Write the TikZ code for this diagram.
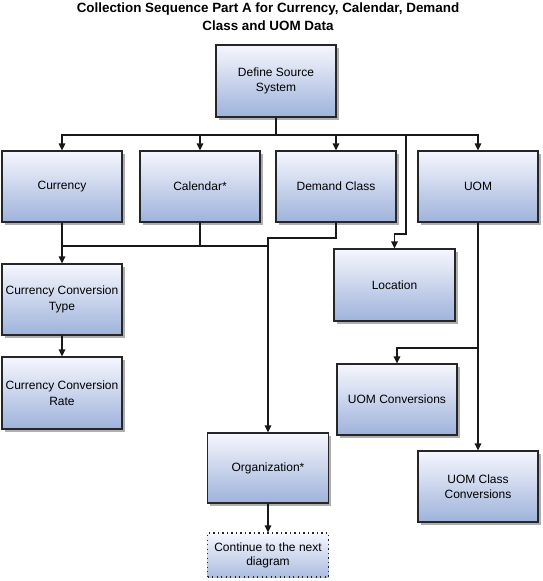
\documentclass[tikz,border=0pt]{standalone}
\usepackage{fontspec}
\setmainfont{Liberation Sans}
\usetikzlibrary{arrows.meta,shadows,calc}
\definecolor{boxtop}{RGB}{246,247,253}
\definecolor{boxbot}{RGB}{158,178,219}
\definecolor{shadowgray}{RGB}{175,175,175}
\tikzset{
  box/.style={rectangle, draw=black!85, line width=1.1pt, top color=boxtop, bottom color=boxbot,
    minimum width=120pt, minimum height=72pt, inner sep=1pt, align=center,
    font=\fontsize{12}{15.5}\selectfont,
    drop shadow={shadow xshift=2.5pt, shadow yshift=-2.5pt, fill=shadowgray, opacity=1}},
  contbox/.style={rectangle, draw=black!85, line width=1.2pt, dash pattern=on 1.2pt off 3.3pt,
    top color=boxtop, bottom color=boxbot!85!white,
    minimum width=121pt, minimum height=44pt, inner sep=1pt, align=center,
    font=\fontsize{12}{14}\selectfont},
  conn/.style={draw=black!90, line width=1.2pt},
  arr/.style={conn, -{Triangle[length=7pt,width=6.5pt]}},
}
\begin{document}
\begin{tikzpicture}[x=1pt,y=-1pt]
\useasboundingbox (0,0) rectangle (543,581);
\node[font=\bfseries\fontsize{13.4}{17.5}\selectfont, align=center] (title) at (268,16.5)
  {Collection Sequence Part A for Currency, Calendar, Demand\\Class and UOM Data};

\node[box] (dss) at (276,81) {Define Source\\System};
\node[box, minimum height=71pt] (cur) at (62,186.5) {Currency};
\node[box, minimum height=71pt] (cal) at (200,186.5) {Calendar*};
\node[box, minimum height=71pt] (dem) at (336,186.5) {Demand Class};
\node[box, minimum height=71pt] (uom) at (478,186.5) {UOM};
\node[box, minimum width=121pt] (loc) at (394.5,285) {Location};
\node[box, minimum height=71pt] (cct) at (62,299.5) {Currency Conversion\\Type};
\node[box] (ccr) at (62,393) {Currency Conversion\\Rate};
\node[box, minimum height=71pt] (uomc) at (397,399.5) {UOM Conversions};
\node[box, minimum width=121pt, minimum height=70pt] (org) at (268,468) {Organization*};
\node[box, minimum height=71pt] (uomcc) at (478,486.5) {UOM Class\\Conversions};
\node[contbox] (cont) at (268,555) {Continue to the next\\diagram};

% bus from Define Source System
\coordinate (bus) at (276,135);
\coordinate (rl) at (406,234);
\draw[conn, line width=2pt] (dss.south) -- (bus);
\draw[arr] (bus) -| (cur.north);
\draw[arr] (bus) -| (cal.north);
\draw[arr] (bus) -| (dem.north);
\draw[arr] (bus) -| (uom.north);
\draw[arr] (bus) -| (rl) -| (loc.north);

% currency chain
\draw[arr] (cur.south) -- (cct.north);
\draw[arr] (cct.south) -- (ccr.north);

% to organization
\coordinate (j1) at (62,246);
\coordinate (j2) at (268,246);
\coordinate (j3) at (268,238);
\draw[conn] (j1) -- (j2);
\draw[conn] (cal.south) -- (cal.south |- j1);
\draw[arr] (dem.south) |- (j3) -- (org.north);
\draw[arr] (org.south) -- (cont.north);

% UOM chain
\coordinate (ub) at (478,348);
\draw[arr] (uom.south) -- (uomcc.north);
\draw[arr] (ub) -| (uomc.north);
\end{tikzpicture}
\end{document}
